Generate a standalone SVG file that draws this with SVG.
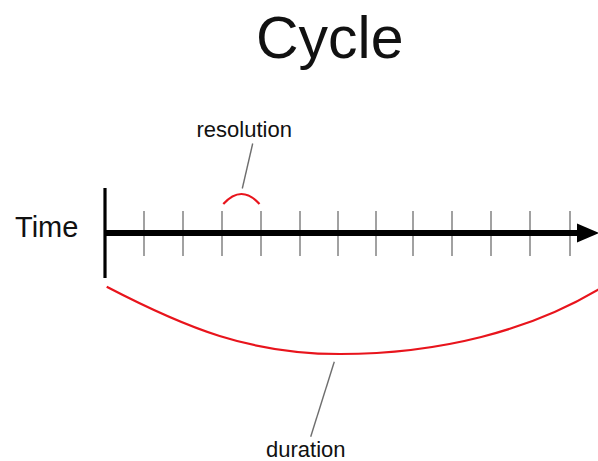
<svg xmlns="http://www.w3.org/2000/svg" width="598" height="461" viewBox="0 0 598 461">
<style>
text{font-family:"Liberation Sans",Arial,sans-serif;fill:#111}
.tick{stroke:#8a8a8a;stroke-width:1.6}
.red{fill:none;stroke:#e8141c;stroke-width:2.2}
.lead{stroke:#6e6e6e;stroke-width:1.4}
</style>
<rect width="598" height="461" fill="#fff"/>
<g id="title"><text x="256" y="58" font-size="59">Cycle</text></g>
<g id="time-label"><text x="15" y="237" font-size="29">Time</text></g>
<g id="axis">
<g id="ticks">
<line class="tick" x1="144" y1="211" x2="144" y2="256"/>
<line class="tick" x1="183" y1="211" x2="183" y2="256"/>
<line class="tick" x1="222" y1="211" x2="222" y2="256"/>
<line class="tick" x1="261" y1="211" x2="261" y2="256"/>
<line class="tick" x1="300" y1="211" x2="300" y2="256"/>
<line class="tick" x1="338" y1="211" x2="338" y2="256"/>
<line class="tick" x1="376" y1="211" x2="376" y2="256"/>
<line class="tick" x1="413" y1="211" x2="413" y2="256"/>
<line class="tick" x1="452" y1="211" x2="452" y2="256"/>
<line class="tick" x1="491" y1="211" x2="491" y2="256"/>
<line class="tick" x1="530" y1="211" x2="530" y2="256"/>
<line class="tick" x1="570" y1="211" x2="570" y2="256"/>
</g>
<line x1="105" y1="188" x2="105" y2="278" stroke="#000" stroke-width="3.2"/>
<line x1="105" y1="233" x2="578" y2="233" stroke="#000" stroke-width="6"/>
<polygon points="577,223.5 599,233 577,242.5" fill="#000"/>
</g>
<g id="resolution">
<path class="red" d="M223.3,204 Q241.5,184 259.5,204"/>
<line class="lead" x1="252.7" y1="143.5" x2="242.3" y2="188.5"/>
<text x="196.5" y="136.5" font-size="22">resolution</text>
</g>
<g id="duration">
<path class="red" d="M106.7,286.7 C186.7,328.3 250,354 340,354 C440,354 530,330.5 600,288.5"/>
<line class="lead" x1="334.3" y1="361.7" x2="310.7" y2="436.7"/>
<text x="266" y="457" font-size="22">duration</text>
</g>
</svg>
